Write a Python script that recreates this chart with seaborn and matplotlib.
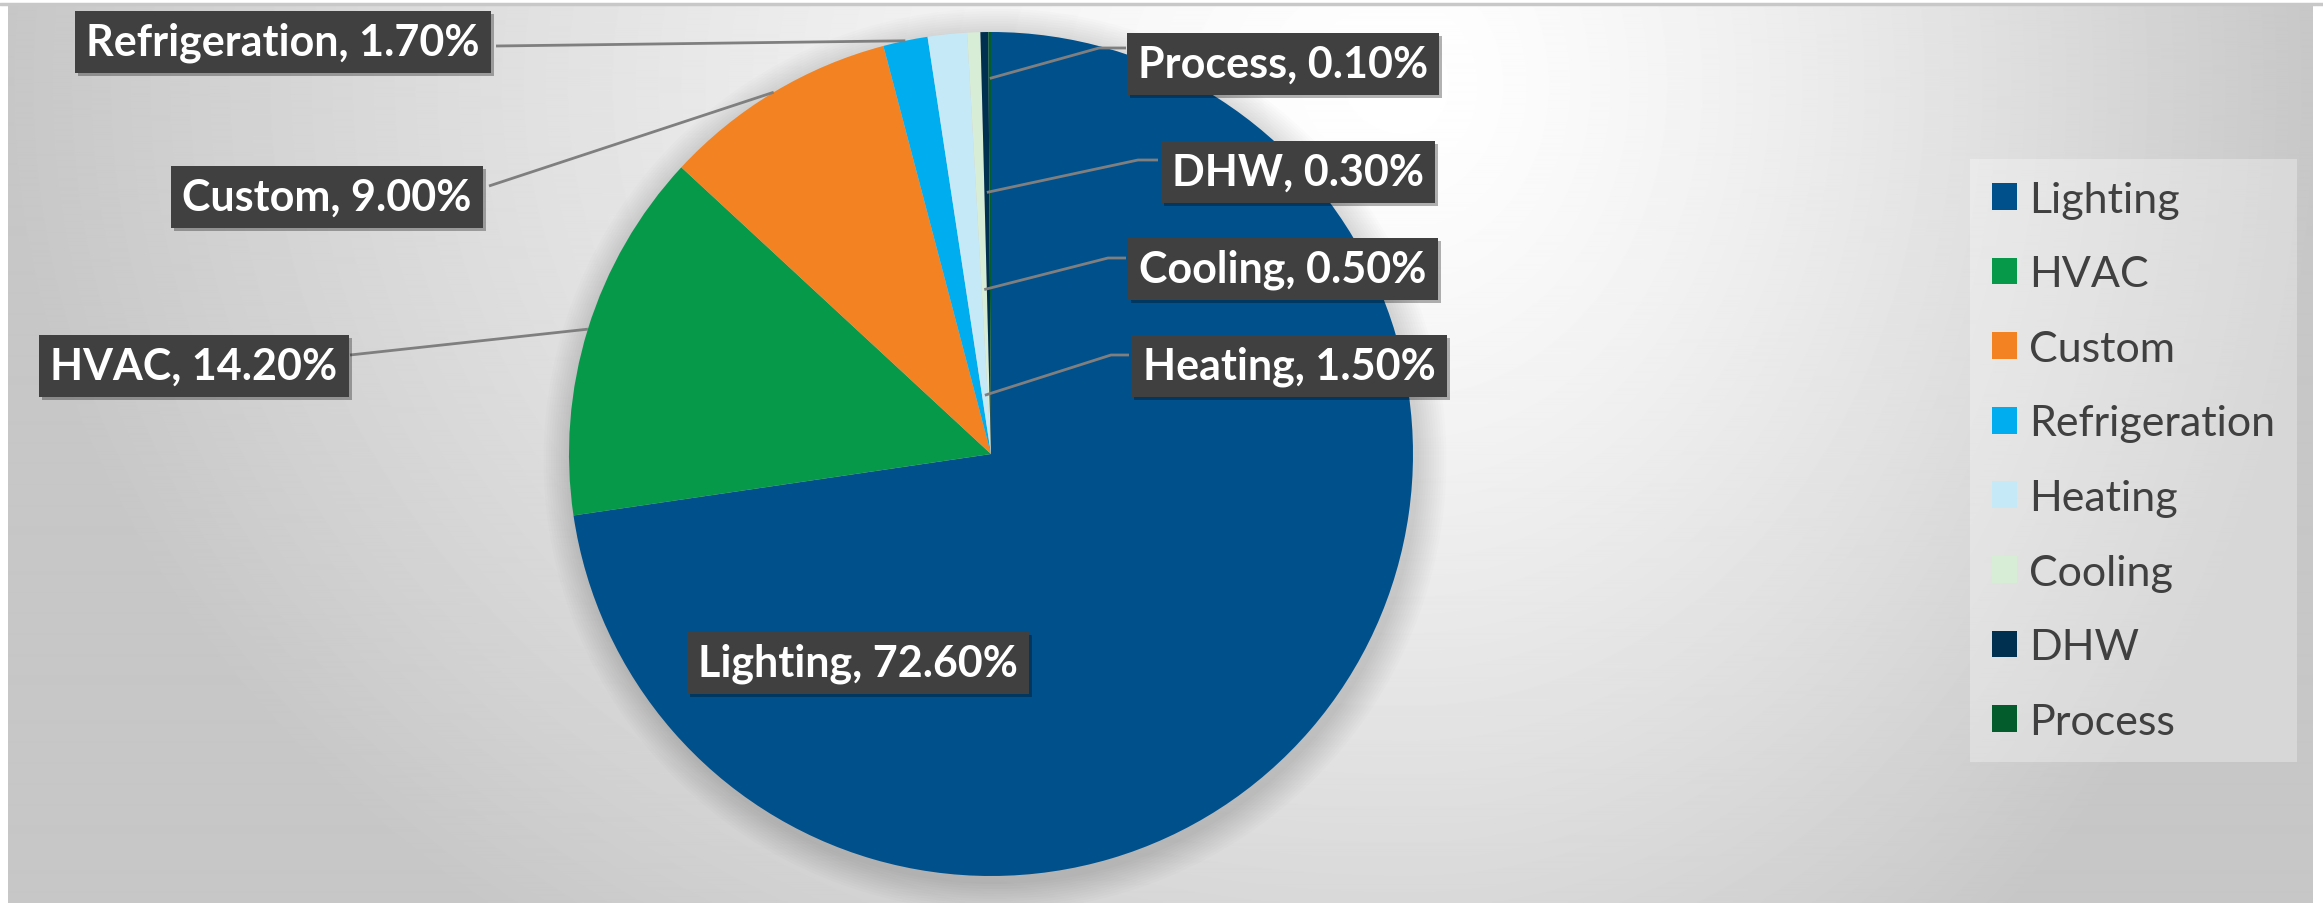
import numpy as np
import matplotlib
matplotlib.use("Agg")
import matplotlib.pyplot as plt
import matplotlib.transforms as mtransforms
import seaborn as sns

# data
categories = ["Lighting", "HVAC", "Custom", "Refrigeration", "Heating", "Cooling", "DHW", "Process"]
shares = [72.6, 14.2, 9.0, 1.7, 1.5, 0.5, 0.3, 0.1]
colors = ["#00508C", "#07994A", "#F38322", "#00AEEF", "#C6E9F8", "#D8EDD5", "#00304F", "#035C2C"]

W, H = 2323, 904

sns.set_theme(style="white")
plt.rcParams['font.family'] = ['Lato', 'DejaVu Sans']
palette = sns.color_palette(colors)

fig = plt.figure(figsize=(W / 100, H / 100), dpi=100)
fig.patch.set_facecolor("white")

# background: radial gray gradient, whitest near top centre
bg = fig.add_axes([8 / W, 0, (W - 18) / W, (H - 6) / H], zorder=0)
yy, xx = np.mgrid[0:H, 0:W - 18]
dx = xx - 1400
sx = np.where(dx < 0, 1400.0, 910.0)
d = np.sqrt((dx / sx) ** 2 + ((yy - 80) / 1100.0) ** 2)
v = 1 - 0.22 * np.clip(d, 0, 1) ** 1.3
bg.imshow(v, cmap="gray", vmin=0, vmax=1, aspect="auto", interpolation="bilinear")
bg.set_axis_off()
fig.add_artist(plt.Line2D([0, 1], [1 - 5 / H, 1 - 5 / H], color="#c8c8c8", lw=2.5))

# main axes in pixel coordinates (y up)
ax = fig.add_axes([0, 0, 1, 1], zorder=1)
ax.set_xlim(0, W)
ax.set_ylim(0, H)
ax.set_axis_off()
ax.patch.set_alpha(0)

def Y(y):
    return H - y

cx, cy, R = 991, Y(455), 422

# soft shadow behind pie
for i in range(12):
    circ = plt.Circle((cx + 4, cy - 6), R + 2 + i * 2.5, color="black", alpha=0.012, lw=0)
    ax.add_patch(circ)

wedges, _ = ax.pie(shares, colors=palette, startangle=90, counterclock=False,
                   center=(cx, cy), radius=R, wedgeprops=dict(linewidth=0))
ax.set_aspect("equal")
ax.set_xlim(0, W)
ax.set_ylim(0, H)

# label boxes (centre of text) and leader line start / end radius fraction
label_pos = {
    "Lighting": (858, 664),
    "HVAC": (194, 367),
    "Custom": (327, 198),
    "Refrigeration": (283, 43),
    "Heating": (1289, 367),
    "Cooling": (1283, 270),
    "DHW": (1298, 173),
    "Process": (1283, 65),
}
line_start = {
    "HVAC": [(350, 356)],
    "Custom": [(489, 187)],
    "Refrigeration": [(496, 47)],
    "Heating": [(1129, 356), (1111, 356)],
    "Cooling": [(1126, 259), (1108, 259)],
    "DHW": [(1158, 161), (1138, 161)],
    "Process": [(1126, 49), (1099, 49)],
}
line_rfrac = {"HVAC": 1.0, "Custom": 1.0, "Refrigeration": 1.0,
              "Heating": 0.14, "Cooling": 0.39, "DHW": 0.62, "Process": 0.89}

for w, name, val in zip(wedges, categories, shares):
    if name in line_start:
        ang = np.deg2rad((w.theta1 + w.theta2) / 2)
        rf = line_rfrac[name]
        ex, ey = cx + R * rf * np.cos(ang), cy + R * rf * np.sin(ang)
        pts = line_start[name]
        xs = [p[0] for p in pts] + [ex]
        ys = [Y(p[1]) for p in pts] + [ey]
        ax.plot(xs, ys, color="#7f7f7f", lw=2, zorder=3, solid_capstyle="butt")

    lx, ly = label_pos[name]
    txt = f"{name}, {val:.2f}%"
    shadow = mtransforms.offset_copy(ax.transData, fig=fig, x=3, y=-3, units="dots")
    ax.text(lx, Y(ly), txt, transform=shadow, ha="center", va="center",
            fontsize=31, fontweight="bold", color="none", zorder=4,
            bbox=dict(boxstyle="square,pad=0.26", fc="black", ec="none", alpha=0.3))
    ax.text(lx, Y(ly), txt, ha="center", va="center", fontsize=31,
            fontweight="bold", color="white", zorder=5,
            bbox=dict(boxstyle="square,pad=0.26", fc="#404040", ec="none"))

leg = ax.legend(wedges, categories, loc="upper left",
                bbox_to_anchor=(1970 / W, 1 - 160 / H), bbox_transform=fig.transFigure,
                frameon=True, fontsize=31, handlelength=0.58, handleheight=0.58,
                handletextpad=0.3, labelspacing=0.85, borderpad=0.5,
                borderaxespad=0, fancybox=False, labelcolor="#404040")
leg.get_frame().set_facecolor("white")
leg.get_frame().set_alpha(0.3)
leg.get_frame().set_edgecolor("none")

fig.savefig("out.png", dpi=100)
